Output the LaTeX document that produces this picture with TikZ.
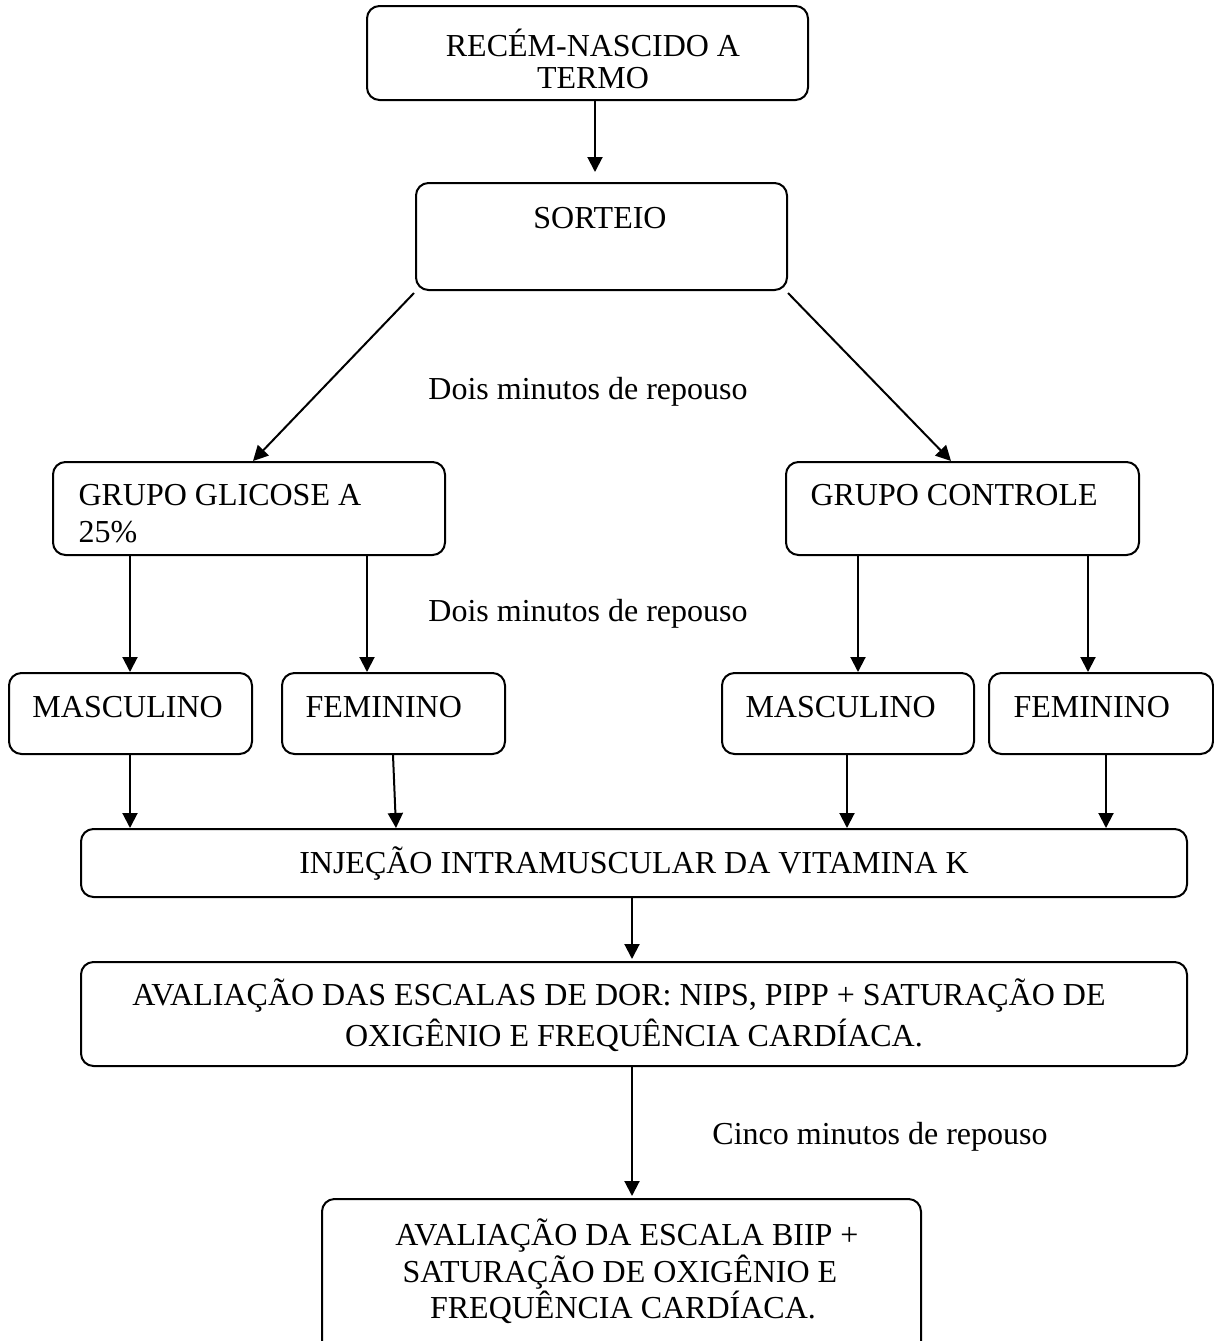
\documentclass[tikz,border=0pt]{standalone}
\usepackage{fontspec}
\setmainfont{Liberation Serif}
\usetikzlibrary{arrows.meta}
\newcommand\bx[5]{\node[box, minimum width={(#4-#2)*0.4pt}, minimum height={(#5-#3)*0.4pt}] (#1) at ({(#2+#4)/2},{(#3+#5)/2}) {};}
\begin{document}
\begin{tikzpicture}[x=0.4pt,y=-0.4pt,
  box/.style={draw, line width=0.8pt, rounded corners=5pt, inner sep=0pt},
  txt/.style={inner sep=0pt, anchor=base, font=\fontsize{12.8}{13}\selectfont},
  ltxt/.style={txt, anchor=base west},
  arr/.style={line width=0.8pt, -{Triangle[length=6pt,width=6pt]}}]
\clip (0,0) rectangle (1214,1341);
\useasboundingbox (0,0) rectangle (1214,1341);
% boxes
\bx{b1}{367}{6}{808}{100}
\bx{sort}{416}{183}{787}{290}
\bx{gli}{53}{462}{445}{555}
\bx{con}{786}{462}{1139}{555}
\bx{mA}{9}{673}{252}{754}
\bx{fA}{282}{673}{505}{754}
\bx{mB}{722}{673}{974}{754}
\bx{fB}{989}{673}{1213}{754}
\bx{inj}{81}{829}{1187}{897}
\bx{av}{81}{962}{1187}{1066}
\bx{bot}{322}{1199}{921}{1370}
% texts
\node[txt] (t1a) at (593,56) {RECÉM-NASCIDO A};
\node[txt] (t1b) at (593,88) {TERMO};
\node[txt] (tsort) at (600,228) {SORTEIO};
\node[txt] (dois1) at (588,399) {Dois minutos de repouso};
\node[ltxt] (tglia) at (78,505) {GRUPO GLICOSE A};
\node[ltxt] (tglib) at (78,542) {25\%};
\node[ltxt] (tcon) at (810,505) {GRUPO CONTROLE};
\node[txt] (dois2) at (588,621) {Dois minutos de repouso};
\node[ltxt] (tmA) at (32,717) {MASCULINO};
\node[ltxt] (tfA) at (305,717) {FEMININO};
\node[ltxt] (tmB) at (745,717) {MASCULINO};
\node[ltxt] (tfB) at (1013,717) {FEMININO};
\node[txt] (tinj) at (634,873) {INJEÇÃO INTRAMUSCULAR DA VITAMINA K};
\node[txt] (tava) at (619,1005) {AVALIAÇÃO DAS ESCALAS DE DOR: NIPS, PIPP + SATURAÇÃO DE};
\node[txt] (tavb) at (634,1046) {OXIGÊNIO E FREQUÊNCIA CARDÍACA.};
\node[txt] (cinco) at (880,1144) {Cinco minutos de repouso};
\node[txt] (tbota) at (627,1245) {AVALIAÇÃO DA ESCALA BIIP +};
\node[txt] (tbotb) at (620,1282) {SATURAÇÃO DE OXIGÊNIO E};
\node[txt] (tbotc) at (623,1318) {FREQUÊNCIA CARDÍACA.};
% connectors
\draw[arr, shorten >=4pt] (595,0 |- b1.south) -- (595,0 |- sort.north);
\draw[arr] ([xshift=-0.4pt,yshift=-0.8pt]sort.south west) -- (253,0 |- gli.north);
\draw[arr] ([yshift=-0.8pt]sort.south east) -- (951,0 |- con.north);
\draw[arr] (130,0 |- gli.south) -- (130,0 |- mA.north);
\draw[arr] (367,0 |- gli.south) -- (367,0 |- fA.north);
\draw[arr] (858,0 |- con.south) -- (858,0 |- mB.north);
\draw[arr] (1088,0 |- con.south) -- (1088,0 |- fB.north);
\draw[arr] (130,0 |- mA.south) -- (130,0 |- inj.north);
\draw[arr] (393,0 |- fA.south) -- (396,0 |- inj.north);
\draw[arr] (847,0 |- mB.south) -- (847,0 |- inj.north);
\draw[arr] (1106,0 |- fB.south) -- (1106,0 |- inj.north);
\draw[arr, shorten >=0.8pt] (632,0 |- inj.south) -- (632,0 |- av.north);
\draw[arr, shorten >=0.8pt] (632,0 |- av.south) -- (632,0 |- bot.north);
\end{tikzpicture}
\end{document}
